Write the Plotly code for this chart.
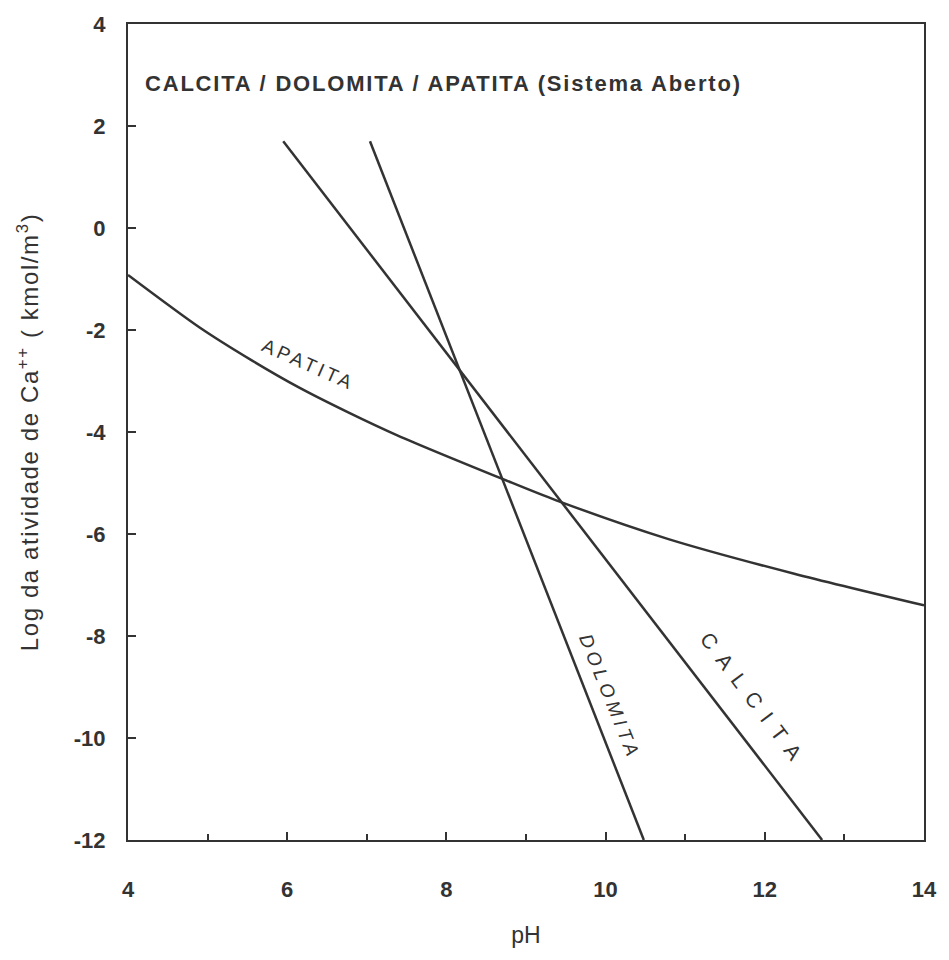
import plotly.graph_objects as go

# Stability lines for Ca++ activity vs pH (open system)
calcita_ph = [5.95, 12.72]
calcita_logca = [1.70, -12.0]

dolomita_ph = [7.04, 10.48]
dolomita_logca = [1.70, -12.0]

apatita_ph = [4.0, 4.9, 5.56, 6.14, 6.76, 7.39, 8.72, 9.38, 10.79, 12.37, 14.0]
apatita_logca = [-0.92, -1.95, -2.60, -3.12, -3.61, -4.07, -4.93, -5.34, -6.10, -6.78, -7.40]

x_ticks = [4, 6, 8, 10, 12, 14]
y_ticks = [-12, -10, -8, -6, -4, -2, 0, 2, 4]

INK = "#333333"
FONT = "Liberation Sans, Arial, sans-serif"

fig = go.Figure()
for xs, ys, name in [(calcita_ph, calcita_logca, "CALCITA"),
                     (dolomita_ph, dolomita_logca, "DOLOMITA"),
                     (apatita_ph, apatita_logca, "APATITA")]:
    fig.add_trace(go.Scatter(x=xs, y=ys, mode="lines", name=name,
                             line=dict(color=INK, width=2.5,
                                       shape="spline" if name == "APATITA" else "linear",
                                       smoothing=0.8),
                             showlegend=False, hoverinfo="skip"))


def spaced(text, px):
    return f'<span style="letter-spacing:{px}px">{text}</span>'


annotations = [
    dict(x=4.19, y=2.83, xanchor="left", yanchor="middle",
         text=spaced("<b>CALCITA / DOLOMITA / APATITA (Sistema Aberto)</b>", 1.8),
         font=dict(size=22, color=INK, family=FONT)),
    dict(x=6.27, y=-2.67, text=spaced("APATITA", 3.5), textangle=24,
         font=dict(size=19, color=INK, family=FONT)),
    dict(x=10.05, y=-9.19, text=spaced("<i>DOLOMITA</i>", 4.5), textangle=68,
         font=dict(size=19, color=INK, family=FONT)),
    dict(x=11.87, y=-9.27, text=spaced("CALCITA", 11), textangle=53,
         font=dict(size=21, color=INK, family=FONT)),
]
for a in annotations:
    a.update(xref="x", yref="y", showarrow=False)

fig.update_layout(
    width=949, height=960,
    margin=dict(l=128, r=18, t=20, b=120),
    paper_bgcolor="white", plot_bgcolor="white",
    annotations=annotations,
    font=dict(family=FONT, color=INK),
)
fig.update_xaxes(
    range=[4, 14], tickvals=x_ticks, ticktext=[f"<b>{v}</b>" for v in x_ticks],
    ticks="inside", ticklen=8, tickwidth=2, tickcolor=INK,
    minor=dict(dtick=1, tick0=4, ticks="inside", ticklen=6, tickwidth=2, tickcolor=INK),
    showline=True, linecolor=INK, linewidth=2.2, mirror=True,
    showgrid=False, zeroline=False,
    tickfont=dict(size=22, color=INK, family=FONT), ticklabelstandoff=28,
    title=dict(text="pH", font=dict(size=23, color=INK, family=FONT), standoff=26),
)
fig.update_yaxes(
    range=[-12, 4], tickvals=y_ticks, ticktext=[f"<b>{v}</b>" for v in y_ticks],
    ticks="inside", ticklen=8, tickwidth=2, tickcolor=INK,
    showline=True, linecolor=INK, linewidth=2.2, mirror=True,
    showgrid=False, zeroline=False,
    tickfont=dict(size=22, color=INK, family=FONT), ticklabelstandoff=16,
    title=dict(text=spaced("Log da atividade de Ca<sup>++</sup> ( kmol/m<sup>3</sup>)", 1.6),
               font=dict(size=24, color=INK, family=FONT), standoff=28),
)

fig.write_html("out.html")
